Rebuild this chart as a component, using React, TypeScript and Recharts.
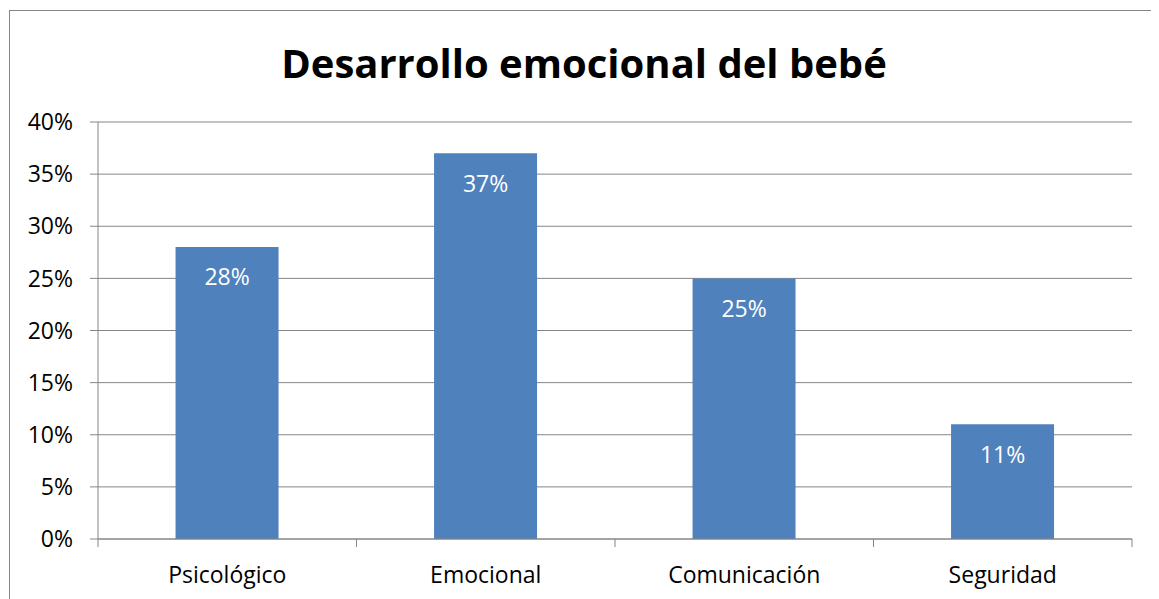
import { BarChart, Bar, XAxis, YAxis, CartesianGrid, LabelList } from "recharts";

const categories = ["Psicológico", "Emocional", "Comunicación", "Seguridad"];
const values = [0.28, 0.37, 0.25, 0.11];
const yTicks = [0, 0.05, 0.1, 0.15, 0.2, 0.25, 0.3, 0.35, 0.4];
const boundaryTicks = [0, 1, 2, 3, 4];

const FONT = "'Open Sans', 'Liberation Sans', sans-serif";
const GREY = "#868686";

const data = categories.map((name, i) => ({ name, value: values[i], pos: i + 0.5 }));

const pct = (v: number) => `${Math.round(v * 100)}%`;

export default function App() {
  return (
    <div style={{ position: "relative", width: 1151, height: 591, fontFamily: FONT }}>
      <div
        style={{
          position: "absolute",
          left: 1,
          top: 2,
          width: 1200,
          height: 640,
          border: `1px solid ${GREY}`,
          boxSizing: "border-box",
        }}
      />
      <div
        style={{
          position: "absolute",
          left: 0,
          top: 35,
          width: 1152,
          textAlign: "center",
          fontSize: 40,
          fontWeight: 700,
          lineHeight: "40px",
          color: "#000",
        }}
      >
        Desarrollo emocional del bebé
      </div>
      <div style={{ position: "absolute", left: 0, top: 0 }}>
        <BarChart
          width={1151}
          height={591}
          data={data}
          barCategoryGap="30%"
          margin={{ top: 114, right: 27, left: 30, bottom: 0 }}
        >
          <CartesianGrid xAxisId="b_cat" vertical={false} stroke={GREY} />
          <XAxis
            xAxisId="a_grid"
            type="number"
            dataKey="pos"
            domain={[0, 4]}
            ticks={boundaryTicks}
            interval={0}
            tick={{ fontSize: 1, fill: "none" }}
            tickFormatter={() => " "}
            tickSize={8}
            height={1}
            axisLine={{ stroke: GREY }}
            tickLine={{ stroke: GREY }}
          />
          <XAxis
            xAxisId="b_cat"
            dataKey="name"
            height={59}
            axisLine={false}
            tickLine={false}
            tickMargin={21}
            tick={{ fill: "#000", fontSize: 23, fontFamily: FONT }}
          />
          <YAxis
            domain={[0, 0.4]}
            ticks={yTicks}
            tickFormatter={pct}
            width={60}
            tickSize={8}
            tickMargin={17}
            axisLine={{ stroke: GREY }}
            tickLine={{ stroke: GREY }}
            tick={{ fill: "#000", fontSize: 23, fontFamily: FONT }}
          />
          <Bar dataKey="value" xAxisId="b_cat" fill="#4F81BD" isAnimationActive={false}>
            <LabelList
              dataKey="value"
              position="insideTop"
              offset={22}
              formatter={(v: number) => pct(v)}
              style={{ fill: "#fff", fontSize: 23, fontFamily: FONT }}
            />
          </Bar>
        </BarChart>
      </div>
    </div>
  );
}
